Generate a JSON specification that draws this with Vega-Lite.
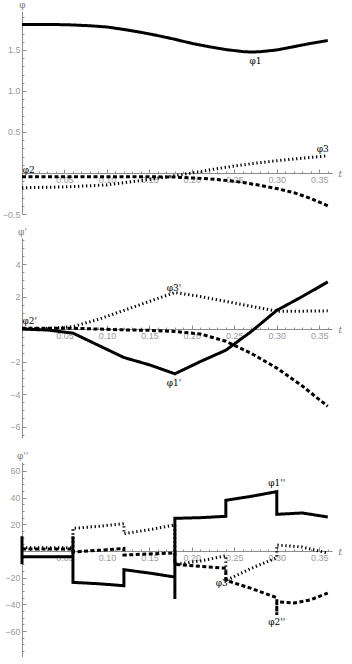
{
  "$schema": "https://vega.github.io/schema/vega-lite/v6.json",
  "padding": {"left": 2, "top": 0, "right": 0, "bottom": 0},
  "bounds": "flush",
  "spacing": 24,
  "background": "white",
  "config": {
    "view": {"stroke": null},
    "axis": {
      "domainColor": "#8c8c8c", "tickColor": "#8c8c8c", "grid": false,
      "labelColor": "#9a9a9a", "labelFontSize": 9, "labelFont": "Liberation Sans",
      "tickSize": -4, "labelPadding": 6, "domainWidth": 1,
      "titleColor": "#777777", "titleFontSize": 9, "titleFontWeight": "normal", "titleFont": "DejaVu Serif"
    },
    "text": {"font": "DejaVu Serif", "fontSize": 9, "color": "black", "fill": "black"}
  },
  "datasets": {
    "p1": [
      {"s": "a", "t": 0.0, "v": 1.81}, {"s": "a", "t": 0.02, "v": 1.81}, {"s": "a", "t": 0.04, "v": 1.81},
      {"s": "a", "t": 0.06, "v": 1.805}, {"s": "a", "t": 0.08, "v": 1.795}, {"s": "a", "t": 0.10, "v": 1.78},
      {"s": "a", "t": 0.12, "v": 1.75}, {"s": "a", "t": 0.14, "v": 1.715}, {"s": "a", "t": 0.16, "v": 1.675},
      {"s": "a", "t": 0.18, "v": 1.63}, {"s": "a", "t": 0.20, "v": 1.58}, {"s": "a", "t": 0.22, "v": 1.54},
      {"s": "a", "t": 0.24, "v": 1.505}, {"s": "a", "t": 0.26, "v": 1.48}, {"s": "a", "t": 0.27, "v": 1.475},
      {"s": "a", "t": 0.28, "v": 1.478}, {"s": "a", "t": 0.30, "v": 1.50}, {"s": "a", "t": 0.32, "v": 1.54},
      {"s": "a", "t": 0.34, "v": 1.58}, {"s": "a", "t": 0.36, "v": 1.615},
      {"s": "b", "t": 0.0, "v": -0.045}, {"s": "b", "t": 0.05, "v": -0.045}, {"s": "b", "t": 0.10, "v": -0.045},
      {"s": "b", "t": 0.15, "v": -0.045}, {"s": "b", "t": 0.18, "v": -0.05}, {"s": "b", "t": 0.20, "v": -0.06},
      {"s": "b", "t": 0.22, "v": -0.07}, {"s": "b", "t": 0.24, "v": -0.09}, {"s": "b", "t": 0.26, "v": -0.115},
      {"s": "b", "t": 0.28, "v": -0.15}, {"s": "b", "t": 0.30, "v": -0.19}, {"s": "b", "t": 0.32, "v": -0.24},
      {"s": "b", "t": 0.34, "v": -0.31}, {"s": "b", "t": 0.36, "v": -0.40},
      {"s": "c", "t": 0.0, "v": -0.18}, {"s": "c", "t": 0.05, "v": -0.17}, {"s": "c", "t": 0.10, "v": -0.145},
      {"s": "c", "t": 0.15, "v": -0.08}, {"s": "c", "t": 0.175, "v": -0.04}, {"s": "c", "t": 0.20, "v": 0.0},
      {"s": "c", "t": 0.225, "v": 0.045}, {"s": "c", "t": 0.25, "v": 0.085}, {"s": "c", "t": 0.275, "v": 0.12},
      {"s": "c", "t": 0.30, "v": 0.15}, {"s": "c", "t": 0.33, "v": 0.18}, {"s": "c", "t": 0.36, "v": 0.21}
    ],
    "l1": [
      {"t": 0.275, "v": 1.37, "label": "φ1"},
      {"t": 0.008, "v": 0.04, "label": "φ2"},
      {"t": 0.354, "v": 0.29, "label": "φ3"}
    ],
    "p2": [
      {"s": "a", "t": 0.0, "v": 0.0}, {"s": "a", "t": 0.03, "v": -0.06}, {"s": "a", "t": 0.06, "v": -0.25},
      {"s": "a", "t": 0.09, "v": -1.0}, {"s": "a", "t": 0.12, "v": -1.75}, {"s": "a", "t": 0.15, "v": -2.2},
      {"s": "a", "t": 0.18, "v": -2.75}, {"s": "a", "t": 0.21, "v": -2.0}, {"s": "a", "t": 0.24, "v": -1.3},
      {"s": "a", "t": 0.27, "v": -0.15}, {"s": "a", "t": 0.30, "v": 1.15}, {"s": "a", "t": 0.33, "v": 2.0},
      {"s": "a", "t": 0.36, "v": 2.9},
      {"s": "b", "t": 0.0, "v": 0.05}, {"s": "b", "t": 0.03, "v": 0.05}, {"s": "b", "t": 0.06, "v": 0.05},
      {"s": "b", "t": 0.09, "v": 0.0}, {"s": "b", "t": 0.12, "v": -0.05}, {"s": "b", "t": 0.15, "v": -0.08},
      {"s": "b", "t": 0.18, "v": -0.15}, {"s": "b", "t": 0.21, "v": -0.3}, {"s": "b", "t": 0.24, "v": -0.75},
      {"s": "b", "t": 0.27, "v": -1.5}, {"s": "b", "t": 0.30, "v": -2.4}, {"s": "b", "t": 0.33, "v": -3.5},
      {"s": "b", "t": 0.36, "v": -4.75},
      {"s": "c", "t": 0.0, "v": 0.0}, {"s": "c", "t": 0.03, "v": 0.03}, {"s": "c", "t": 0.06, "v": 0.15},
      {"s": "c", "t": 0.09, "v": 0.6}, {"s": "c", "t": 0.12, "v": 1.15}, {"s": "c", "t": 0.15, "v": 1.7},
      {"s": "c", "t": 0.18, "v": 2.25}, {"s": "c", "t": 0.21, "v": 2.0}, {"s": "c", "t": 0.24, "v": 1.7},
      {"s": "c", "t": 0.27, "v": 1.4}, {"s": "c", "t": 0.30, "v": 1.1}, {"s": "c", "t": 0.33, "v": 1.1},
      {"s": "c", "t": 0.36, "v": 1.12}
    ],
    "l2": [
      {"t": 0.179, "v": -3.3, "label": "φ1'"},
      {"t": 0.009, "v": 0.5, "label": "φ2'"},
      {"t": 0.179, "v": 2.55, "label": "φ3'"}
    ],
    "p3": [
      {"s": "a", "i": 0, "t": 0.0, "v": 11}, {"s": "a", "i": 1, "t": 0.0, "v": -10}, {"s": "a", "i": 2, "t": 0.0, "v": -4.2},
      {"s": "a", "i": 3, "t": 0.06, "v": -4.2}, {"s": "a", "i": 4, "t": 0.06, "v": 11}, {"s": "a", "i": 5, "t": 0.06, "v": -23.5},
      {"s": "a", "i": 6, "t": 0.09, "v": -24.5}, {"s": "a", "i": 7, "t": 0.12, "v": -26}, {"s": "a", "i": 8, "t": 0.12, "v": -14},
      {"s": "a", "i": 9, "t": 0.15, "v": -16.5}, {"s": "a", "i": 10, "t": 0.18, "v": -19.5}, {"s": "a", "i": 11, "t": 0.18, "v": -36},
      {"s": "a", "i": 12, "t": 0.18, "v": 24.5}, {"s": "a", "i": 13, "t": 0.21, "v": 25}, {"s": "a", "i": 14, "t": 0.24, "v": 26},
      {"s": "a", "i": 15, "t": 0.24, "v": 38}, {"s": "a", "i": 16, "t": 0.27, "v": 41}, {"s": "a", "i": 17, "t": 0.30, "v": 44.5},
      {"s": "a", "i": 18, "t": 0.30, "v": 27.5}, {"s": "a", "i": 19, "t": 0.33, "v": 28.5}, {"s": "a", "i": 20, "t": 0.36, "v": 25.5},
      {"s": "b", "i": 0, "t": 0.0, "v": 1.5}, {"s": "b", "i": 1, "t": 0.06, "v": 1.5}, {"s": "b", "i": 2, "t": 0.06, "v": -0.7},
      {"s": "b", "i": 3, "t": 0.09, "v": 0.5}, {"s": "b", "i": 4, "t": 0.12, "v": 2}, {"s": "b", "i": 5, "t": 0.12, "v": -3},
      {"s": "b", "i": 6, "t": 0.15, "v": -2.2}, {"s": "b", "i": 7, "t": 0.18, "v": -1.5}, {"s": "b", "i": 8, "t": 0.18, "v": -10},
      {"s": "b", "i": 9, "t": 0.21, "v": -11.5}, {"s": "b", "i": 10, "t": 0.24, "v": -13}, {"s": "b", "i": 11, "t": 0.24, "v": -22},
      {"s": "b", "i": 12, "t": 0.27, "v": -28}, {"s": "b", "i": 13, "t": 0.30, "v": -35}, {"s": "b", "i": 14, "t": 0.30, "v": -48},
      {"s": "b", "i": 15, "t": 0.30, "v": -38}, {"s": "b", "i": 16, "t": 0.32, "v": -39}, {"s": "b", "i": 17, "t": 0.34, "v": -36.5},
      {"s": "b", "i": 18, "t": 0.36, "v": -31.5},
      {"s": "c", "i": 0, "t": 0.0, "v": 2.5}, {"s": "c", "i": 1, "t": 0.06, "v": 2.5}, {"s": "c", "i": 2, "t": 0.06, "v": 17},
      {"s": "c", "i": 3, "t": 0.09, "v": 18.5}, {"s": "c", "i": 4, "t": 0.12, "v": 20.5}, {"s": "c", "i": 5, "t": 0.12, "v": 13},
      {"s": "c", "i": 6, "t": 0.15, "v": 16}, {"s": "c", "i": 7, "t": 0.18, "v": 19.5}, {"s": "c", "i": 8, "t": 0.18, "v": -10},
      {"s": "c", "i": 9, "t": 0.21, "v": -7.5}, {"s": "c", "i": 10, "t": 0.24, "v": -3.5}, {"s": "c", "i": 11, "t": 0.24, "v": -22},
      {"s": "c", "i": 12, "t": 0.27, "v": -13}, {"s": "c", "i": 13, "t": 0.30, "v": -5}, {"s": "c", "i": 14, "t": 0.30, "v": 4.5},
      {"s": "c", "i": 15, "t": 0.33, "v": 3}, {"s": "c", "i": 16, "t": 0.36, "v": -1.5}
    ],
    "l3": [
      {"t": 0.30, "v": 51, "label": "φ1''"},
      {"t": 0.30, "v": -53, "label": "φ2''"},
      {"t": 0.238, "v": -24, "label": "φ3''"}
    ]
  },
  "vconcat": [
    {
      "width": 310, "height": 203,
      "resolve": {"axis": {"x": "independent", "y": "independent"}},
      "layer": [
        {"data": {"name": "p1"},
         "mark": {"type": "line", "color": "black", "strokeWidth": 3, "strokeCap": "butt"},
         "encoding": {
           "x": {"field": "t", "type": "quantitative", "scale": {"domain": [0, 0.365], "nice": false},
                 "axis": {"orient": "bottom", "values": [0.05, 0.1, 0.15, 0.2, 0.25, 0.3, 0.35], "format": ".2f", "offset": -41,
                          "title": "t", "titleAngle": 0, "titleX": 316, "titleY": 0, "titleAlign": "left", "titleBaseline": "middle", "titleFontStyle": "italic"}},
           "y": {"field": "v", "type": "quantitative", "scale": {"domain": [-0.5, 1.975], "nice": false, "zero": false},
                 "axis": {"orient": "left", "values": [-0.5, 0.5, 1.0, 1.5], "format": ".1f",
                          "title": "φ", "titleAngle": 0, "titleX": 0, "titleY": -2, "titleAlign": "center", "titleBaseline": "bottom"}},
           "detail": {"field": "s"},
           "strokeDash": {"field": "s", "type": "nominal", "legend": null,
                          "scale": {"domain": ["a", "b", "c"], "range": [[1, 0], [4, 2.5], [1.3, 2.7]]}}}},
        {"data": {"name": "l1"}, "mark": {"type": "text", "fill": "black"},
         "encoding": {
           "x": {"field": "t", "type": "quantitative",
                 "axis": {"orient": "bottom", "values": [0.01, 0.02, 0.03, 0.04, 0.06, 0.07, 0.08, 0.09, 0.11, 0.12, 0.13, 0.14, 0.16, 0.17, 0.18, 0.19, 0.21, 0.22, 0.23, 0.24, 0.26, 0.27, 0.28, 0.29, 0.31, 0.32, 0.33, 0.34, 0.36],
                          "labels": false, "domain": false, "tickSize": -2, "offset": -41, "title": null}},
           "y": {"field": "v", "type": "quantitative",
                 "axis": {"orient": "left", "values": [-0.4, -0.3, -0.2, -0.1, 0.1, 0.2, 0.3, 0.4, 0.6, 0.7, 0.8, 0.9, 1.1, 1.2, 1.3, 1.4, 1.6, 1.7, 1.8, 1.9],
                          "labels": false, "domain": false, "tickSize": -2, "title": null}},
           "text": {"field": "label"}}}
      ]
    },
    {
      "width": 310, "height": 200,
      "resolve": {"axis": {"x": "independent", "y": "independent"}},
      "layer": [
        {"data": {"name": "p2"},
         "mark": {"type": "line", "color": "black", "strokeWidth": 3, "strokeCap": "butt"},
         "encoding": {
           "x": {"field": "t", "type": "quantitative", "scale": {"domain": [0, 0.365], "nice": false},
                 "axis": {"orient": "bottom", "values": [0.05, 0.1, 0.15, 0.2, 0.25, 0.3, 0.35], "format": ".2f", "offset": -109,
                          "title": "t", "titleAngle": 0, "titleX": 316, "titleY": 0, "titleAlign": "left", "titleBaseline": "middle", "titleFontStyle": "italic"}},
           "y": {"field": "v", "type": "quantitative", "scale": {"domain": [-6.7, 5.6], "nice": false, "zero": false},
                 "axis": {"orient": "left", "values": [-6, -4, -2, 2, 4], "format": "d",
                          "title": "φ'", "titleAngle": 0, "titleX": 0, "titleY": -2, "titleAlign": "center", "titleBaseline": "bottom"}},
           "detail": {"field": "s"},
           "strokeDash": {"field": "s", "type": "nominal", "legend": null,
                          "scale": {"domain": ["a", "b", "c"], "range": [[1, 0], [4, 2.5], [1.3, 2.7]]}}}},
        {"data": {"name": "l2"}, "mark": {"type": "text", "fill": "black"},
         "encoding": {
           "x": {"field": "t", "type": "quantitative",
                 "axis": {"orient": "bottom", "values": [0.01, 0.02, 0.03, 0.04, 0.06, 0.07, 0.08, 0.09, 0.11, 0.12, 0.13, 0.14, 0.16, 0.17, 0.18, 0.19, 0.21, 0.22, 0.23, 0.24, 0.26, 0.27, 0.28, 0.29, 0.31, 0.32, 0.33, 0.34, 0.36],
                          "labels": false, "domain": false, "tickSize": -2, "offset": -109, "title": null}},
           "y": {"field": "v", "type": "quantitative",
                 "axis": {"orient": "left", "values": [-6.5, -5.5, -5, -4.5, -3.5, -3, -2.5, -1.5, -1, -0.5, 0.5, 1, 1.5, 2.5, 3, 3.5, 4.5, 5, 5.5],
                          "labels": false, "domain": false, "tickSize": -2, "title": null}},
           "text": {"field": "label"}}}
      ]
    },
    {
      "width": 310, "height": 195,
      "resolve": {"axis": {"x": "independent", "y": "independent"}},
      "layer": [
        {"data": {"name": "p3"},
         "mark": {"type": "line", "color": "black", "strokeWidth": 3, "strokeCap": "butt"},
         "encoding": {
           "x": {"field": "t", "type": "quantitative", "scale": {"domain": [0, 0.365], "nice": false},
                 "axis": {"orient": "bottom", "values": [0.05, 0.1, 0.15, 0.2, 0.25, 0.3, 0.35], "format": ".2f", "offset": -106,
                          "title": "t", "titleAngle": 0, "titleX": 316, "titleY": 0, "titleAlign": "left", "titleBaseline": "middle", "titleFontStyle": "italic"}},
           "y": {"field": "v", "type": "quantitative", "scale": {"domain": [-79.4, 66.7], "nice": false, "zero": false},
                 "axis": {"orient": "left", "values": [-60, -40, -20, 20, 40, 60], "format": "d",
                          "title": "φ''", "titleAngle": 0, "titleX": 0, "titleY": -2, "titleAlign": "center", "titleBaseline": "bottom"}},
           "detail": {"field": "s"}, "order": {"field": "i", "type": "quantitative"},
           "strokeDash": {"field": "s", "type": "nominal", "legend": null,
                          "scale": {"domain": ["a", "b", "c"], "range": [[1, 0], [4, 2.5], [1.3, 2.7]]}}}},
        {"data": {"name": "l3"}, "mark": {"type": "text", "fill": "black"},
         "encoding": {
           "x": {"field": "t", "type": "quantitative",
                 "axis": {"orient": "bottom", "values": [0.01, 0.02, 0.03, 0.04, 0.06, 0.07, 0.08, 0.09, 0.11, 0.12, 0.13, 0.14, 0.16, 0.17, 0.18, 0.19, 0.21, 0.22, 0.23, 0.24, 0.26, 0.27, 0.28, 0.29, 0.31, 0.32, 0.33, 0.34, 0.36],
                          "labels": false, "domain": false, "tickSize": -2, "offset": -106, "title": null}},
           "y": {"field": "v", "type": "quantitative",
                 "axis": {"orient": "left", "values": [-75, -70, -65, -55, -50, -45, -35, -30, -25, -15, -10, -5, 5, 10, 15, 25, 30, 35, 45, 50, 55, 65],
                          "labels": false, "domain": false, "tickSize": -2, "title": null}},
           "text": {"field": "label"}}}
      ]
    }
  ]
}
